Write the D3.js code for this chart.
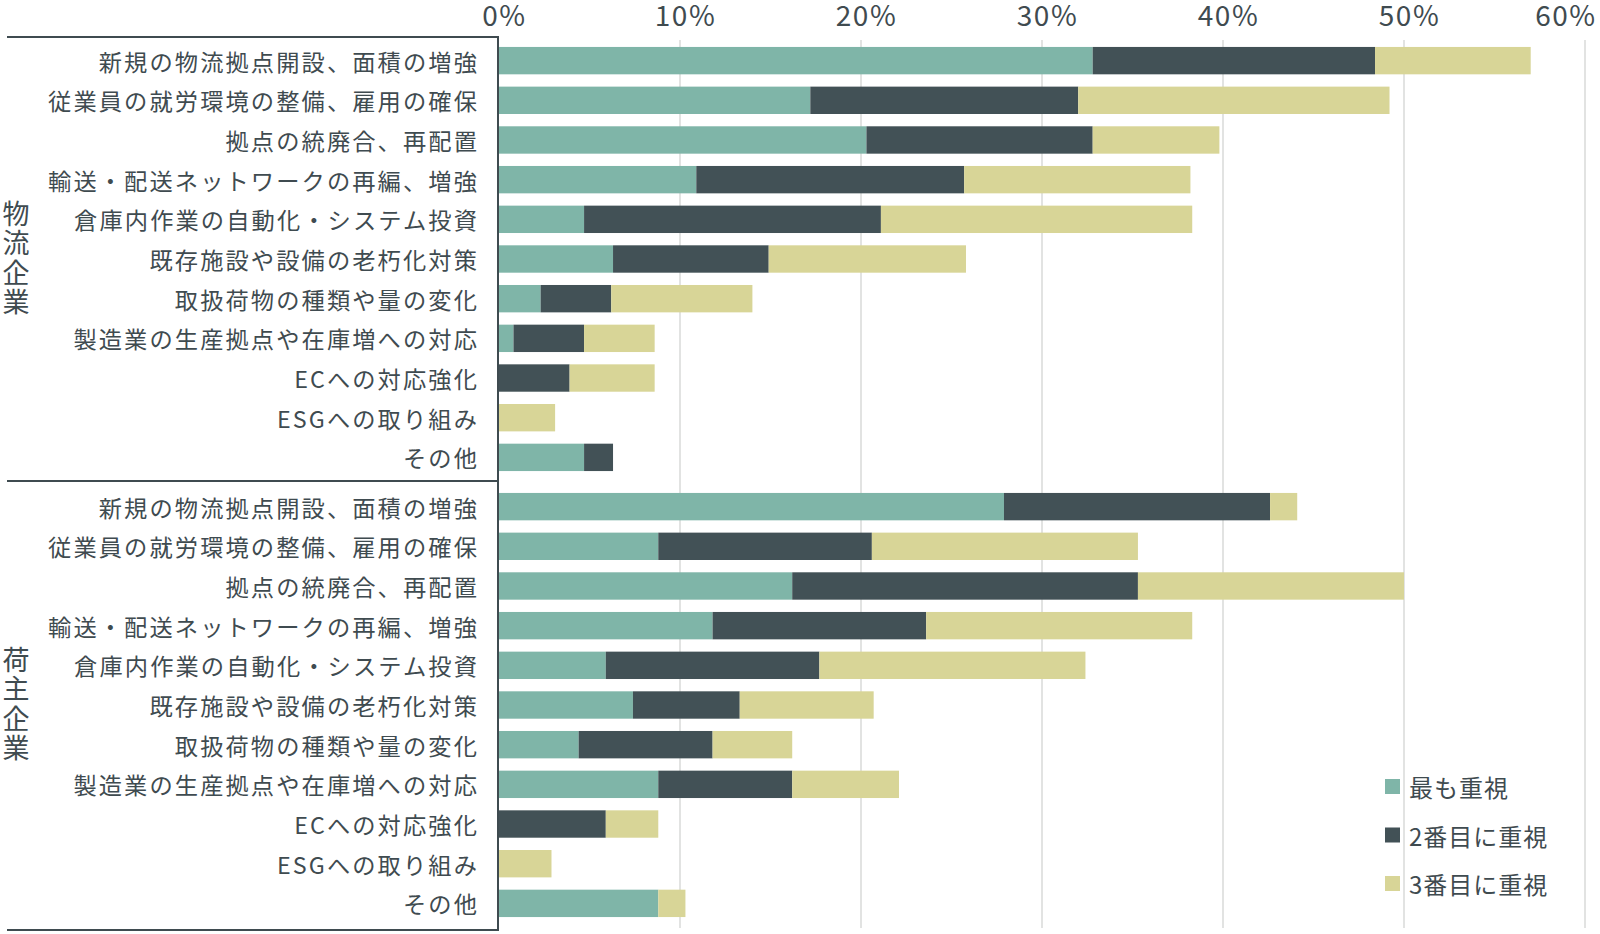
<!DOCTYPE html>
<html>
<head>
<meta charset="utf-8">
<script src="https://cdn.jsdelivr.net/npm/d3@7"></script>
<style>
  body { margin: 0; background: #fff; }
  svg text { font-family: "Noto Sans CJK JP", "Noto Sans", sans-serif; fill: #3f4b50; }
</style>
</head>
<body>
<svg id="chart"></svg>
<script>
// categories (same for both groups)
var categories = [
  "新規の物流拠点開設、面積の増強",
  "従業員の就労環境の整備、雇用の確保",
  "拠点の統廃合、再配置",
  "輸送・配送ネットワークの再編、増強",
  "倉庫内作業の自動化・システム投資",
  "既存施設や設備の老朽化対策",
  "取扱荷物の種類や量の変化",
  "製造業の生産拠点や在庫増への対応",
  "ECへの対応強化",
  "ESGへの取り組み",
  "その他"
];
var groupNames = ["物流企業", "荷主企業"];
var seriesNames = ["最も重視", "2番目に重視", "3番目に重視"];
var ticks = [0, 10, 20, 30, 40, 50, 60];

// 物流企業 (%)
var logiFirst  = [32.8, 17.2, 20.3, 10.9, 4.7, 6.3, 2.3, 0.8, 0, 0, 4.7];
var logiSecond = [15.6, 14.8, 12.5, 14.8, 16.4, 8.6, 3.9, 3.9, 3.9, 0, 1.6];
var logiThird  = [8.6, 17.2, 7.0, 12.5, 17.2, 10.9, 7.8, 3.9, 4.7, 3.1, 0];
// 荷主企業 (%)
var shipFirst  = [27.9, 8.8, 16.2, 11.8, 5.9, 7.4, 4.4, 8.8, 0, 0, 8.8];
var shipSecond = [14.7, 11.8, 19.1, 11.8, 11.8, 5.9, 7.4, 7.4, 5.9, 0, 0];
var shipThird  = [1.5, 14.7, 14.7, 14.7, 14.7, 7.4, 4.4, 5.9, 2.9, 2.9, 1.5];

var colors = ["#7fb5a8", "#425156", "#d8d597"];
var lineColor = "#3f4b50";

var width = 1600, height = 934;
var svg = d3.select("#chart").attr("width", width).attr("height", height);

var x = d3.scaleLinear().domain([0, 60]).range([499, 1585]);

// gridlines
svg.append("g").selectAll("line")
  .data(ticks.slice(1))
  .enter().append("line")
  .attr("x1", d => x(d)).attr("x2", d => x(d))
  .attr("y1", 40).attr("y2", 928)
  .attr("stroke", "#e2e3e2").attr("stroke-width", 2);

// top axis labels
var axis = svg.append("g")
  .attr("transform", "translate(5,25.5)")
  .call(d3.axisTop(x).tickValues(ticks).tickFormat(d => d + "%").tickSize(0).tickPadding(0));
axis.select(".domain").remove();
axis.selectAll("text")
  .attr("font-size", 28)
  .attr("letter-spacing", 1.5)
  .style("font-family", '"Noto Sans CJK JP", sans-serif')
  .attr("fill", "#3f4b50");
axis.selectAll(".tick").filter(d => d === 60).select("text")
  .attr("text-anchor", "end").attr("x", 6);

var groups = [
  { name: groupNames[0], first: logiFirst, second: logiSecond, third: logiThird, top: 41, bottom: 477 },
  { name: groupNames[1], first: shipFirst, second: shipSecond, third: shipThird, top: 487, bottom: 923 }
];

var stack = d3.stack().keys(["first", "second", "third"]);

groups.forEach(function (g) {
  var rows = categories.map(function (c, i) {
    return { cat: c, first: g.first[i], second: g.second[i], third: g.third[i] };
  });
  var y = d3.scaleBand().domain(categories).range([g.top, g.bottom]).paddingInner(0.31).paddingOuter(0.15);
  var layers = stack(rows);

  var gg = svg.append("g");
  gg.selectAll("g.layer")
    .data(layers)
    .enter().append("g")
    .attr("class", "layer")
    .attr("fill", (d, i) => colors[i])
    .selectAll("rect")
    .data(d => d.filter(p => p[1] - p[0] > 0))
    .enter().append("rect")
    .attr("x", d => x(d[0]))
    .attr("width", d => x(d[1]) - x(d[0]))
    .attr("y", d => y(d.data.cat))
    .attr("height", y.bandwidth());

  gg.selectAll("text.cat")
    .data(categories)
    .enter().append("text")
    .attr("class", "cat")
    .attr("x", 479)
    .attr("y", d => y(d) + y.bandwidth() / 2)
    .attr("dominant-baseline", "central")
    .attr("text-anchor", "end")
    .attr("font-size", 23.25)
    .attr("letter-spacing", 2.1)
    .text(d => d);

  // vertical group label
  var mid = (g.top + g.bottom) / 2;
  gg.append("text")
    .attr("class", "grp")
    .attr("x", 16)
    .attr("y", mid)
    .style("writing-mode", "vertical-rl")
    .attr("text-anchor", "middle")
    .attr("font-size", 27)
    .attr("letter-spacing", 2.5)
    .text(g.name);
});

// frame lines
var frame = svg.append("g").attr("stroke", lineColor).attr("stroke-width", 2);
frame.append("line").attr("x1", 7).attr("x2", 499).attr("y1", 37).attr("y2", 37);
frame.append("line").attr("x1", 7).attr("x2", 499).attr("y1", 481).attr("y2", 481);
frame.append("line").attr("x1", 7).attr("x2", 499).attr("y1", 930).attr("y2", 930);
frame.append("line").attr("x1", 498).attr("x2", 498).attr("y1", 36).attr("y2", 931);

// legend
var legend = svg.append("g").selectAll("g")
  .data(seriesNames)
  .enter().append("g")
  .attr("transform", (d, i) => "translate(1385," + (786.5 + i * 48.5) + ")");
legend.append("rect")
  .attr("x", 0).attr("y", -7.5).attr("width", 15).attr("height", 15)
  .attr("fill", (d, i) => colors[i]);
legend.append("text")
  .attr("x", 24).attr("y", 0)
  .attr("dominant-baseline", "central")
  .attr("font-size", 24)
  .attr("letter-spacing", 1)
  .text(d => d);
</script>
</body>
</html>
